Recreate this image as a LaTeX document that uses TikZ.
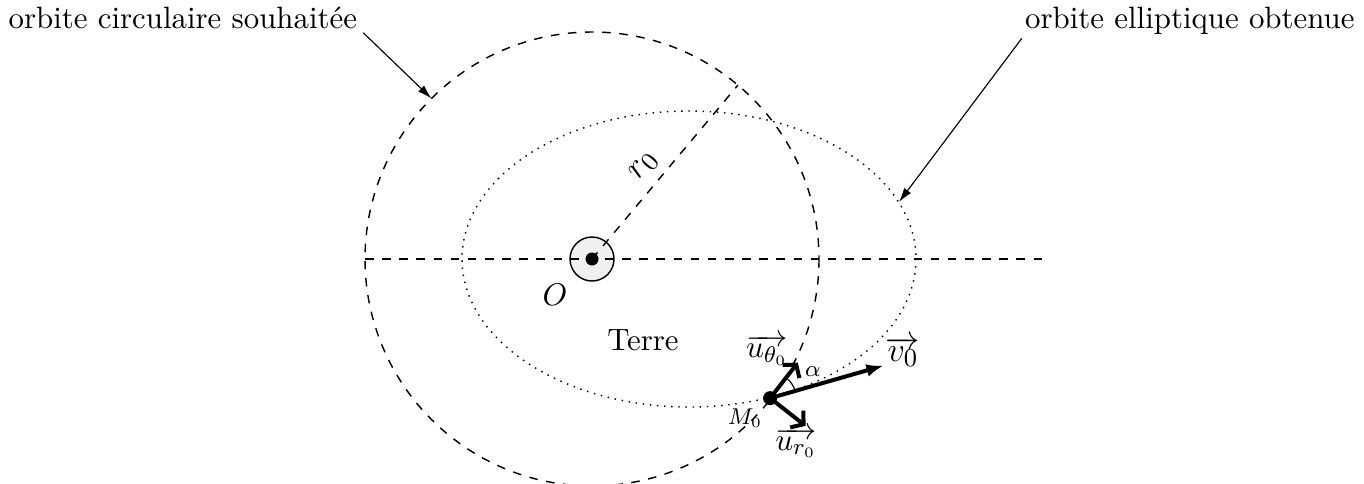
\documentclass[tikz,border=0pt]{standalone}
\usetikzlibrary{arrows.meta,calc}
\begin{document}
\begin{tikzpicture}[x=0.35pt,y=-0.35pt,
  every node/.style={font=\fontsize{10.8}{13}\selectfont,inner sep=1pt},
  orbitc/.style={dashed,line width=0.5pt},
  orbite/.style={dotted,line width=0.5pt},
  pointer/.style={-{Latex[length=5pt,width=3pt]},line width=0.4pt},
  vect/.style={-{Straight Barb[length=3pt,width=7.5pt]},line width=1.4pt},
  vvect/.style={-{Latex[length=6pt,width=4.5pt]},line width=1.4pt}]
\useasboundingbox (0,0) rectangle (1364,483);
\clip (0,0) rectangle (1364,483);
\coordinate (O) at (592,259);
\coordinate (Rend) at ($(O)+(-50:227)$);
\coordinate (M0) at ($(O)+(38:226)$);
\coordinate (Hl) at (365,259);
\coordinate (Hr) at (1043,259);
\coordinate (Cpt) at ($(O)+(-135:227)$);
\coordinate (Ept) at (899,202);
\coordinate (Uth) at ($(M0)+(-52:45)$);
\coordinate (Ur) at ($(M0)+(38:45)$);
\coordinate (V0) at ($(M0)+(-16:118)$);
% orbits
\draw[orbitc] (O) circle[radius=227];
\draw[orbite] (689,259) circle[x radius=227, y radius=148];
% Earth
\filldraw[fill=gray!12,draw=black,line width=0.5pt] (O) circle[radius=22];
\draw[orbitc] (Hl) -- (Hr);
\draw[orbitc] (O) -- (Rend);
\node[rotate=50,font=\fontsize{12.5}{14}\selectfont] (lr0) at (644,166) {$r_0$};
\fill (O) circle[radius=6.5];
\node (lO) at (555,295) {$O$};
\node (terre) at (643,340) {Terre};
% labels
\node[anchor=base west,inner sep=0pt] (lab1) at (8,29) {orbite circulaire souhaitée};
\node[anchor=base east,inner sep=0pt] (lab2) at (1355,29) {orbite elliptique obtenue};
\draw[pointer] ([xshift=2pt,yshift=-1pt]lab1.south east) -- (Cpt);
\draw[pointer] ([xshift=-1pt,yshift=-1pt]lab2.south west) -- (Ept);
% vectors
\draw[vect] (M0) -- (Uth);
\draw[vect] (M0) -- (Ur);
\draw[vvect] (M0) -- (V0);
\draw[line width=0.4pt] ($(M0)+(-16:26)$) arc[start angle=-16,end angle=-52,radius=26];
\fill (M0) circle[radius=7];
\node[inner sep=0pt] (lal) at (813,372) {$\scriptstyle\alpha$};
\node[inner sep=0pt,font=\fontsize{13}{15}\selectfont] (lv0) at (903,352) {$\overrightarrow{v_0}$};
\node[inner sep=0pt] (luth) at (767,350) {$\scriptstyle\overrightarrow{u_{\theta_0}}$};
\node[inner sep=0pt] (lur) at (796,443) {$\scriptstyle\overrightarrow{u_{r_0}}$};
\node[inner sep=0pt] (lM) at (745,418) {$\scriptstyle M_0$};
\end{tikzpicture}
\end{document}
